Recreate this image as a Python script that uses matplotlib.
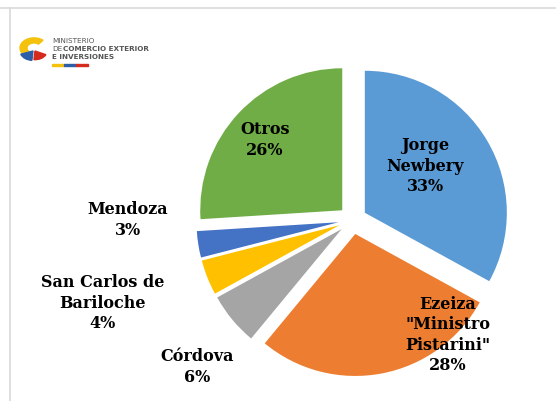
import matplotlib
matplotlib.use("Agg")
import matplotlib.pyplot as plt
from matplotlib.patches import Wedge, Rectangle
from matplotlib.lines import Line2D

# ---- data ----
labels = ["Jorge\nNewbery", "Ezeiza\n\"Ministro\nPistarini\"", "Córdova",
          "San Carlos de\nBariloche", "Mendoza", "Otros"]
values = [33, 28, 6, 4, 3, 26]
colors = ["#5B9BD5", "#ED7D31", "#A5A5A5", "#FFC000", "#4472C4", "#70AD47"]

# ---- layout (label positions in pie units, radius = 1) ----
label_pos = [(0.51, 0.38), (0.67, -0.81), (-1.096, -1.035),
             (-1.758, -0.585), (-1.582, 0.0), (-0.617, 0.563)]

W, H = 556, 401
fig = plt.figure(figsize=(W / 100, H / 100), dpi=100)
ax = fig.add_axes([0, 0, 1, 1])

cx_px, cy_px, r_px = 352.6, 220.0, 142.0
wedges, _ = ax.pie(values, colors=colors, startangle=90, counterclock=False,
                   explode=[0.1] * len(values), radius=1.0,
                   wedgeprops=dict(linewidth=0))
ax.set_aspect("auto")
ax.set_xlim(-cx_px / r_px, (W - cx_px) / r_px)
ax.set_ylim(-(H - cy_px) / r_px, cy_px / r_px)
ax.axis("off")

total = sum(values)
font = dict(family="DejaVu Serif", fontweight="bold", fontsize=11.5,
            color="black", ha="center", va="center", linespacing=1.25)
for lab, v, (x, y) in zip(labels, values, label_pos):
    ax.text(x, y, f"{lab}\n{round(100 * v / total)}%", **font)

# ---- frame lines ----
fig.add_artist(Line2D([0, 1], [1 - 8 / H, 1 - 8 / H], color="#d9d9d9", lw=1.2))
fig.add_artist(Line2D([10 / W, 10 / W], [0, 1 - 8 / H], color="#d9d9d9", lw=1.2))

# ---- logo ----
tf = fig.transFigure
fig.add_artist(Wedge((34 / W, 1 - 48 / H), 14 / W, 50, 240, width=7 / W,
                     color="#F4C20D", transform=tf))
fig.add_artist(Wedge((33 / W, 1 - 51 / H), 13 / W, 200, 265,
                     color="#2F5EA8", transform=tf))
fig.add_artist(Wedge((35 / W, 1 - 51 / H), 12 / W, 265, 335,
                     color="#D52B1E", transform=tf))
lkw = dict(family="Liberation Sans Narrow", fontsize=5.2, color="#555555",
           va="center", ha="left")
fig.text(52 / W, 1 - 41 / H, "MINISTERIO", **lkw)
fig.text(52 / W, 1 - 49 / H, "DE", **lkw)
fig.text(63 / W, 1 - 49 / H, "COMERCIO EXTERIOR", fontweight="bold", **lkw)
fig.text(52 / W, 1 - 57 / H, "E INVERSIONES", fontweight="bold", **lkw)
for i, c in enumerate(["#F4C20D", "#2F5EA8", "#D52B1E"]):
    fig.add_artist(Rectangle(((52 + 12 * i) / W, 1 - 66 / H), 12 / W, 2 / H,
                             color=c, transform=tf))

fig.savefig("out.png", dpi=100, facecolor="white")
